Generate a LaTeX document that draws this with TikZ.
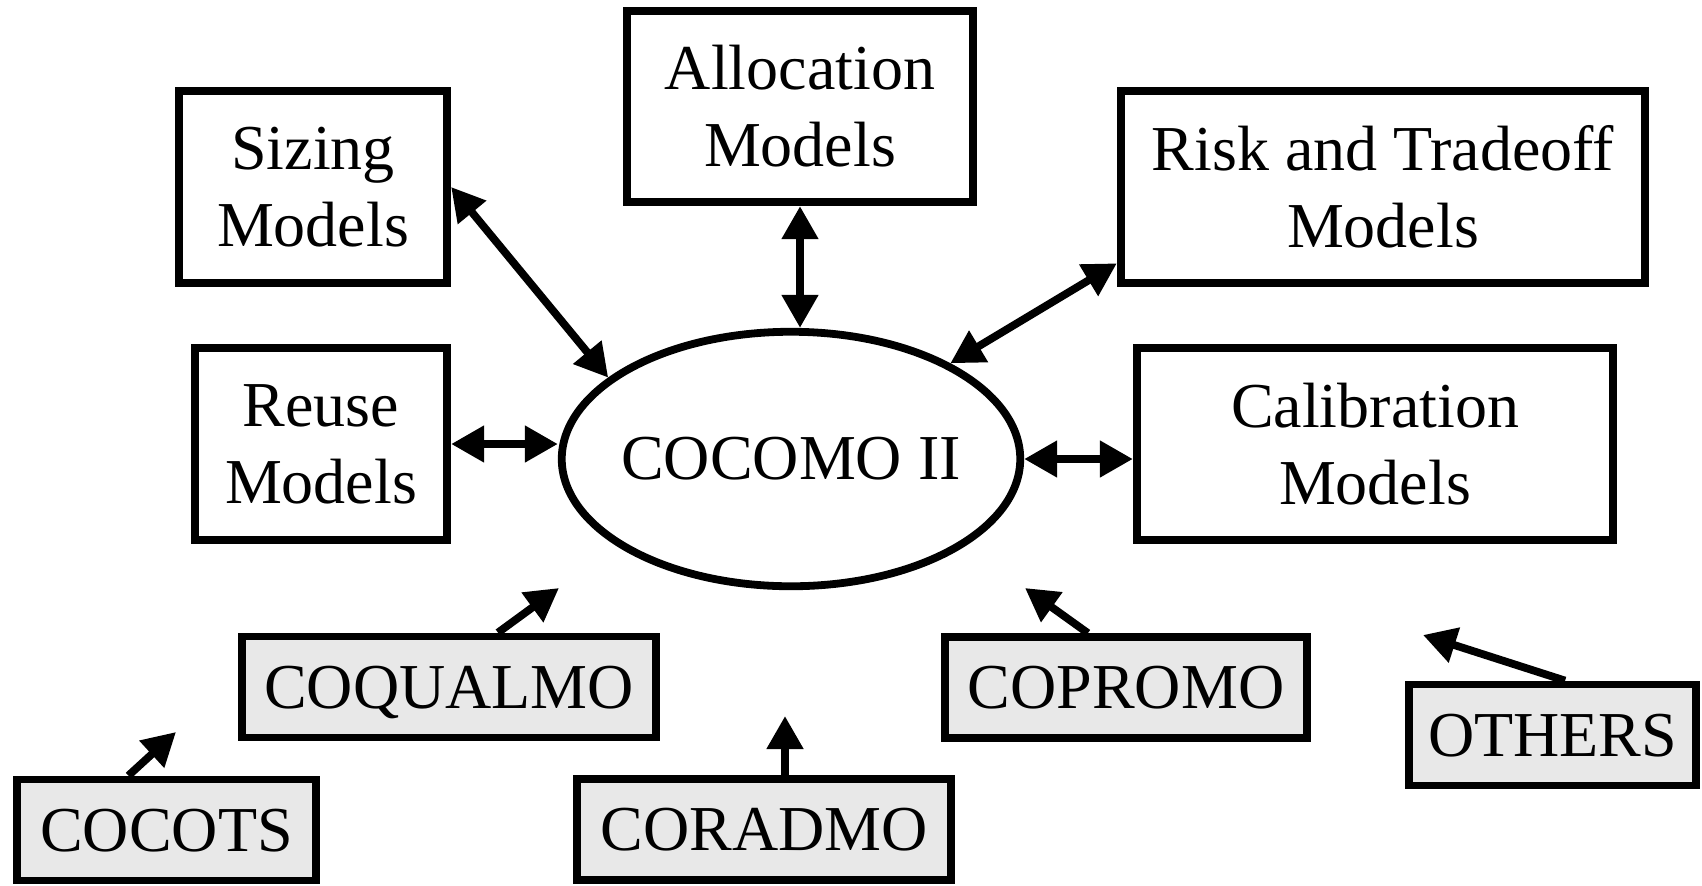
\documentclass[tikz,border=0pt]{standalone}
\usepackage{fontspec}
\setmainfont{Liberation Serif}
\usetikzlibrary{arrows.meta,shapes.geometric}
\definecolor{boxgray}{RGB}{232,232,232}
\begin{document}
\begin{tikzpicture}[x=0.5pt,y=-0.5pt,
  bigtext/.style={font=\fontsize{32}{38.5}\selectfont},
  model/.style={draw, line width=3.9pt, rectangle, inner sep=0pt, align=center, bigtext, minimum height=95.75pt},
  sub/.style={draw, line width=3.9pt, fill=boxgray, inner sep=0pt, bigtext, text height=21.2pt, text depth=0pt, minimum height=50.5pt},
  core/.style={draw, ellipse, line width=3.9pt, inner sep=0pt, minimum width=229.25pt, minimum height=127.25pt},
  link/.style={line width=3.9pt, arrows={Triangle[length=16.5pt,width=17.5pt]-Triangle[length=16.5pt,width=17.5pt]}},
  feed/.style={line width=3.9pt, arrows={-Triangle[length=16.5pt,width=17.5pt]}}]
\useasboundingbox (0,0) rectangle (1702,885);

\node[model, minimum width=134.25pt] (siz) at (313,187) {Sizing\\Models};
\node[model, minimum width=173.25pt] (all) at (800,106.5) {Allocation\\Models};
\node[model, minimum width=262.25pt] (ris) at (1383,187) {Risk and Tradeoff\\Models};
\node[model, minimum width=126.25pt] (reu) at (321,444) {Reuse\\Models};
\node[model, minimum width=238.25pt] (cal) at (1375,444) {Calibration\\Models};
\node[core, label={[bigtext, inner sep=0pt]center:COCOMO II}] (coc) at (791,459) {};

\node[sub, minimum width=207.25pt] (cql) at (449,687) {COQUALMO};
\node[sub, minimum width=149.75pt] (cct) at (166.5,830) {COCOTS};
\node[sub, minimum width=187.25pt] (crd) at (764,829.5) {CORADMO};
\node[sub, minimum width=181.25pt] (cpr) at (1126,687.5) {COPROMO};
\node[sub, minimum width=143.75pt] (oth) at (1552.5,735) {OTHERS};

\coordinate (cqlT) at (559,588);
\coordinate (cctT) at (176,732);
\coordinate (crdT) at (785,716);
\coordinate (cprT) at (1025,588);
\coordinate (othT) at (1423,635);

\draw[link] (siz.east) -- (coc.156);
\draw[link] (all.south) -- (all.south |- coc.north);
\draw[link] (ris.196.7) -- (coc.31.7);
\draw[link] (reu.east) -- (reu.east -| coc.west);
\draw[link] (coc.east) -- (coc.east -| cal.west);

\draw[feed] (cql.48.6) -- (cqlT);
\draw[feed] (cct.125.5) -- (cctT);
\draw[feed] (crd.north -| crdT) -- (crdT);
\draw[feed] (cpr.125.6) -- (cprT);
\draw[feed] (oth.77) -- (othT);
\end{tikzpicture}
\end{document}
